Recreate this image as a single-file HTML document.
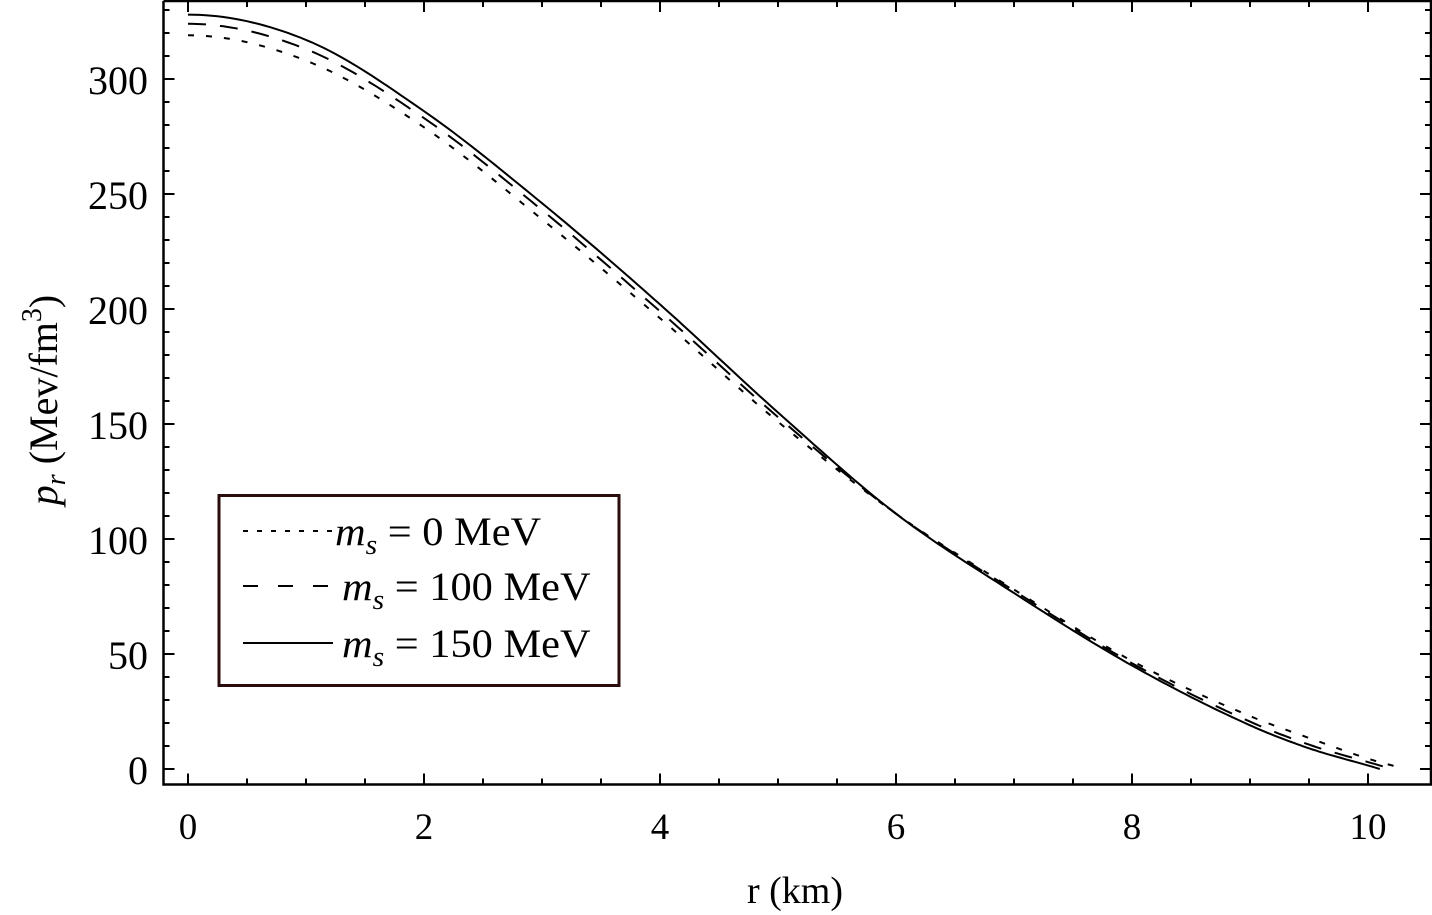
<!DOCTYPE html>
<html><head><meta charset="utf-8"><style>
html,body{margin:0;padding:0;background:#fff;}
svg{display:block;font-family:"Liberation Serif",serif;}
</style></head><body>
<svg id="s" width="1432" height="915" viewBox="0 0 1432 915" xmlns="http://www.w3.org/2000/svg">
<g id="ax"></g>
<g id="cv" fill="none" stroke="#000" stroke-width="2"></g>
<rect x="219" y="495.5" width="400" height="190" fill="#fff" stroke="#2a0c0c" stroke-width="3"/>
<line x1="243" y1="531" x2="335" y2="531" stroke="#000" stroke-width="2" stroke-dasharray="5,9"/>
<line x1="243" y1="586" x2="338" y2="586" stroke="#000" stroke-width="2" stroke-dasharray="15,20"/>
<line x1="243" y1="643" x2="333" y2="643" stroke="#000" stroke-width="2"/>
<g transform="translate(335,545) scale(1.06,1)"><text x="0" y="0" font-size="40"><tspan font-style="italic">m</tspan><tspan font-style="italic" font-size="28" dy="9">s</tspan><tspan dy="-9"> = 0 MeV</tspan></text></g>
<g transform="translate(342,600) scale(1.06,1)"><text x="0" y="0" font-size="40"><tspan font-style="italic">m</tspan><tspan font-style="italic" font-size="28" dy="9">s</tspan><tspan dy="-9"> = 100 MeV</tspan></text></g>
<g transform="translate(342,657) scale(1.06,1)"><text x="0" y="0" font-size="40"><tspan font-style="italic">m</tspan><tspan font-style="italic" font-size="28" dy="9">s</tspan><tspan dy="-9"> = 150 MeV</tspan></text></g>
<text x="795" y="903" font-size="38" text-anchor="middle">r (km)</text>
<text transform="translate(57,400) rotate(-90)" font-size="40" text-anchor="middle"><tspan font-style="italic">p</tspan><tspan font-style="italic" font-size="28" dy="8">r</tspan><tspan dy="-8"> (Mev/fm</tspan><tspan font-size="28" dy="-16">3</tspan><tspan dy="16">)</tspan></text>
</svg>
<script>
const X=r=>188+r*118, Y=p=>769-p*2.3;
const ax=document.getElementById('ax');let h='';
const L=163.5,R=1431,T=1,B=784.5;
h+=`<path d="M${L},${T}V${B}H${R}V${T}H${L}" fill="none" stroke="#000" stroke-width="2.5"/>`;
for(let i=0;i<=20;i++){const r=i*0.5;if(X(r)>R)break;const len=i%4==0?11:6;const x=X(r);
h+=`<line x1="${x}" y1="${B}" x2="${x}" y2="${B-len}" stroke="#000" stroke-width="2"/><line x1="${x}" y1="${T}" x2="${x}" y2="${T+len}" stroke="#000" stroke-width="2"/>`;
if(i%4==0)h+=`<text x="${x}" y="839" font-size="37" text-anchor="middle">${r}</text>`;}
for(let p=0;p<=340;p+=10){const y=Y(p);if(y<T)break;const len=p%50==0?11:6;
h+=`<line x1="${L}" y1="${y}" x2="${L+len}" y2="${y}" stroke="#000" stroke-width="2"/><line x1="${R}" y1="${y}" x2="${R-len}" y2="${y}" stroke="#000" stroke-width="2"/>`;
if(p%50==0)h+=`<text x="148" y="${y+15}" font-size="40" text-anchor="end">${p}</text>`;}
ax.innerHTML=h;
function spline(pts,endSlope){const n=pts.length,xs=pts.map(p=>p[0]),ys=pts.map(p=>p[1]);const m=[];
for(let i=0;i<n;i++){if(i==0)m.push(0);else if(i==n-1)m.push(endSlope);else{const a=(ys[i]-ys[i-1])/(xs[i]-xs[i-1]),b=(ys[i+1]-ys[i])/(xs[i+1]-xs[i]);m.push((a+b)/2);}}
let out=[];for(let i=0;i<n-1;i++){const hh=xs[i+1]-xs[i];for(let k=0;k<20;k++){const t=k/20,t2=t*t,t3=t2*t;
const y=(2*t3-3*t2+1)*ys[i]+(t3-2*t2+t)*hh*m[i]+(-2*t3+3*t2)*ys[i+1]+(t3-t2)*hh*m[i+1];out.push([xs[i]+t*hh,y]);}}
out.push([xs[n-1],ys[n-1]]);return 'M'+out.map(p=>X(p[0]).toFixed(1)+','+Y(p[1]).toFixed(1)).join('L');}
const solid=[[0,328],[1,317],[2,286],[3,246],[4,202],[5,155],[6,111],[7,76.5],[8,45],[9,19],[9.5,9],[10.1,0]];
const dash=[[0,324],[1,313],[2,283],[3,243],[4,199],[5,153],[6,111],[7,77.5],[8,46],[9,20.6],[9.5,10.6],[10.2,0]];
const dot=[[0,319],[1,308],[2,279],[3,239],[4,196],[5,151],[6,111],[7,78],[8,47],[9,23],[9.5,13.5],[10,4.5],[10.31,0]];
document.getElementById('cv').innerHTML=
`<path d="${spline(solid,-16)}"/><path d="${spline(dash,-16)}" stroke-dasharray="18,14"/><path d="${spline(dot,-15)}" stroke-dasharray="6,12"/>`;
</script>
</body></html>
